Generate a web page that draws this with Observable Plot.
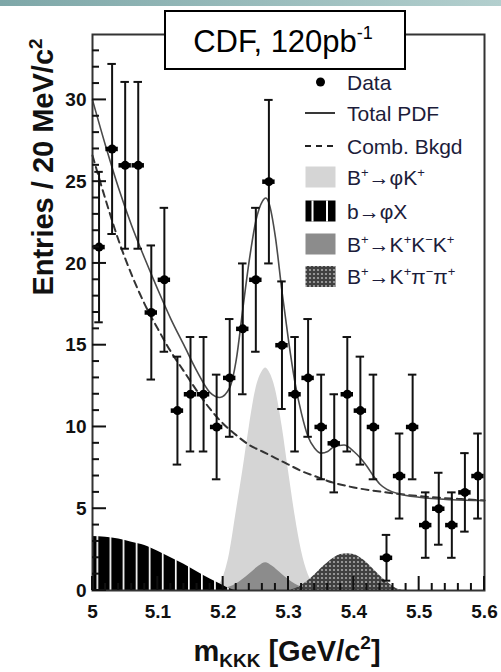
<!DOCTYPE html>
<html><head><meta charset="utf-8">
<script src="https://cdn.jsdelivr.net/npm/d3@7"></script>
<script src="https://cdn.jsdelivr.net/npm/@observablehq/plot@0.6"></script>
<style>body{margin:0;background:#fff;} #chart{position:relative;width:501px;height:672px;overflow:hidden}</style>
</head><body><div id="chart"></div>
<script>
// ---- data ----
const binCenters = [5.01,5.03,5.05,5.07,5.09,5.11,5.13,5.15,5.17,5.19,5.21,5.23,5.25,5.27,5.29,5.31,5.33,5.35,5.37,5.39,5.41,5.43,5.45,5.47,5.49,5.51,5.53,5.55,5.57,5.59];
const entries    = [21,27,26,26,17,19,11,12,12,10,13,16,19,25,15,12,13,10,9,12,11,10,2,7,10,4,5,4,6,7];
const errors     = [4.6,5.2,5.1,5.1,4.1,4.4,3.3,3.5,3.5,3.2,3.6,4.0,4.4,5.0,3.9,3.5,3.6,3.2,3.0,3.5,3.3,3.2,1.4,2.6,3.2,2.0,2.2,2.0,2.4,2.6];

const totalX = [5.00,5.02,5.04,5.06,5.08,5.10,5.12,5.14,5.16,5.18,5.195,5.21,5.22,5.23,5.24,5.25,5.26,5.265,5.27,5.28,5.29,5.30,5.31,5.32,5.33,5.34,5.35,5.36,5.37,5.385,5.40,5.41,5.42,5.43,5.44,5.45,5.47,5.50,5.55,5.60];
const totalY = [30.0,27.2,24.6,22.3,20.3,18.4,16.6,15.0,13.4,12.1,11.8,12.4,14.1,17.2,20.2,22.6,23.8,24.0,23.7,21.6,18.3,15.3,12.7,10.8,9.4,8.7,8.4,8.5,8.8,8.9,8.5,8.1,7.6,7.0,6.5,6.2,5.9,5.7,5.55,5.5];

const bkgX = [5.00,5.02,5.04,5.06,5.08,5.10,5.12,5.14,5.16,5.18,5.20,5.22,5.24,5.26,5.28,5.30,5.32,5.34,5.36,5.40,5.44,5.48,5.52,5.56,5.60];
const bkgY = [26.6,23.9,21.4,19.3,17.5,16.0,14.6,13.4,12.2,11.1,10.2,9.5,8.9,8.5,8.1,7.7,7.3,7.0,6.7,6.3,6.05,5.85,5.7,5.6,5.5];

const phiKX = [5.18,5.19,5.20,5.21,5.22,5.23,5.24,5.25,5.26,5.265,5.27,5.28,5.29,5.30,5.31,5.32,5.33,5.34,5.35];
const phiKY = [0,0.2,0.8,2.3,4.8,7.3,10.0,12.3,13.4,13.6,13.4,12.3,10.1,7.3,4.6,2.4,1.0,0.3,0];

const kkkX = [5.18,5.20,5.22,5.24,5.255,5.265,5.275,5.29,5.31,5.33,5.35];
const kkkY = [0,0.1,0.4,1.0,1.5,1.7,1.5,1.0,0.4,0.1,0];

const kppX = [5.30,5.31,5.32,5.33,5.34,5.35,5.36,5.37,5.38,5.39,5.40,5.41,5.42,5.43,5.44,5.45,5.46,5.47,5.48];
const kppY = [0,0.1,0.3,0.6,0.95,1.35,1.7,2.0,2.2,2.25,2.2,2.0,1.7,1.3,0.9,0.55,0.25,0.05,0];

const bphiX = [5.00,5.02,5.04,5.06,5.08,5.10,5.12,5.14,5.16,5.18,5.20,5.21,5.22];
const bphiY = [3.3,3.25,3.15,2.95,2.75,2.4,2.0,1.6,1.15,0.7,0.3,0.1,0];

const xMajorTicks = [5,5.1,5.2,5.3,5.4,5.5,5.6];
const xTickLabels = ["5","5.1","5.2","5.3","5.4","5.5","5.6"];
const xMinorTicks = [5.02,5.04,5.06,5.08,5.12,5.14,5.16,5.18,5.22,5.24,5.26,5.28,5.32,5.34,5.36,5.38,5.42,5.44,5.46,5.48,5.52,5.54,5.56,5.58];
const yMajorTicks = [0,5,10,15,20,25,30];
const yMinorTicks = [1,2,3,4,6,7,8,9,11,12,13,14,16,17,18,19,21,22,23,24,26,27,28,29,31,32,33];

const legendItems = [
  {kind:"dot",  label:[["Data"]]},
  {kind:"line", label:[["Total PDF"]]},
  {kind:"dash", label:[["Comb. Bkgd"]]},
  {kind:"light",label:[["B"],["+","sup"],["\u2192\u03c6K"],["+","sup"]]},
  {kind:"bphi", label:[["b\u2192\u03c6X"]]},
  {kind:"kkk",  label:[["B"],["+","sup"],["\u2192K"],["+","sup"],["K"],["\u2212","sup"],["K"],["+","sup"]]},
  {kind:"kpp",  label:[["B"],["+","sup"],["\u2192K"],["+","sup"],["\u03c0"],["\u2212","sup"],["\u03c0"],["+","sup"]]}
];

// ---- tables ----
const zip = (xs, ys) => xs.map((x, i) => ({x, y: ys[i]}));
const pts = binCenters.map((x, i) => ({x, n: entries[i], e: errors[i]}));
const FONT = "'Liberation Sans', Arial, Helvetica, sans-serif";

const svg = Plot.plot({
  width: 501, height: 672,
  marginLeft: 92, marginRight: 17, marginTop: 34, marginBottom: 82,
  style: {fontFamily: FONT, background: "#fff"},
  x: {domain: [5, 5.6], label: null},
  y: {domain: [0, 34], label: null},
  marks: [
    Plot.areaY(zip(phiKX, phiKY), {x: "x", y: "y", fill: "#d5d5d5", curve: "monotone-x"}),
    Plot.areaY(zip(kkkX, kkkY), {x: "x", y: "y", fill: "#8c8c8c", curve: "monotone-x"}),
    Plot.areaY(zip(kppX, kppY), {x: "x", y: "y", fill: "url(#kppPat)", curve: "monotone-x"}),
    Plot.areaY(zip(bphiX, bphiY), {x: "x", y: "y", fill: "url(#bphiPat)", curve: "monotone-x"}),
    Plot.line(zip(bkgX, bkgY), {x: "x", y: "y", stroke: "#333", strokeWidth: 2, strokeDasharray: "7,5", curve: "monotone-x"}),
    Plot.line(zip(totalX, totalY), {x: "x", y: "y", stroke: "#4a4a4a", strokeWidth: 1.6, curve: "monotone-x"}),
    // data with error bars
    Plot.ruleX(pts, {x: "x", y1: d => d.n - d.e, y2: d => d.n + d.e, stroke: "#111", strokeWidth: 2}),
    Plot.ruleY(pts, {y: d => d.n - d.e, x1: d => d.x - 0.0065, x2: d => d.x + 0.0065, stroke: "#111", strokeWidth: 2}),
    Plot.ruleY(pts, {y: d => d.n + d.e, x1: d => d.x - 0.0065, x2: d => d.x + 0.0065, stroke: "#111", strokeWidth: 2}),
    Plot.ruleY(pts, {y: "n", x1: d => d.x - 0.0095, x2: d => d.x + 0.0095, stroke: "#000", strokeWidth: 4.5}),
    Plot.dot(pts, {x: "x", y: "n", r: 4.5, fill: "#000"}),
    Plot.frame({stroke: "#333", strokeWidth: 2}),
    Plot.axisX(xMajorTicks, {tickSize: 0, tickPadding: 14, fontSize: 19, fontWeight: "bold", fill: "#111",
      tickFormat: d => xTickLabels[xMajorTicks.indexOf(d)]}),
    Plot.axisY(yMajorTicks, {tickSize: 0, tickPadding: 6, fontSize: 19, fontWeight: "bold", fill: "#111"})
  ]
});
document.getElementById("chart").appendChild(svg);

const xs = svg.scale("x"), ys = svg.scale("y");
const X = v => xs.apply(v), Y = v => ys.apply(v);
const S = d3.select(svg);
const defs = S.insert("defs", ":first-child");
const lg = defs.append("linearGradient").attr("id", "hdr").attr("x1", 0).attr("x2", 1).attr("y1", 0).attr("y2", 0);
lg.append("stop").attr("offset", 0).attr("stop-color", "#7ea7a8");
lg.append("stop").attr("offset", 1).attr("stop-color", "#b3cfce");
const bw = X(5.02) - X(5.0);
const bp = defs.append("pattern").attr("id", "bphiPat").attr("patternUnits", "userSpaceOnUse")
  .attr("x", X(5.0) + 4.5).attr("y", 0).attr("width", bw).attr("height", 20);
bp.append("rect").attr("width", bw).attr("height", 20).attr("fill", "#000");
bp.append("rect").attr("x", 0).attr("width", 1.7).attr("height", 20).attr("fill", "#fff");
const kp = defs.append("pattern").attr("id", "kppPat").attr("patternUnits", "userSpaceOnUse")
  .attr("width", 4).attr("height", 4);
kp.append("rect").attr("width", 4).attr("height", 4).attr("fill", "#404040");
kp.append("circle").attr("cx", 2).attr("cy", 2).attr("r", 1.1).attr("fill", "#a8a8a8");

const ov = S.append("g").style("font-family", FONT).attr("text-anchor", "start");

// inner axis ticks, placed with the plot's own scales
const tk = ov.append("g").attr("stroke", "#111").attr("stroke-width", 2);
const x0 = X(5), y0 = Y(0);
yMajorTicks.forEach(v => tk.append("line").attr("x1", x0).attr("x2", x0 + 14).attr("y1", Y(v)).attr("y2", Y(v)));
yMinorTicks.forEach(v => tk.append("line").attr("x1", x0).attr("x2", x0 + 7).attr("y1", Y(v)).attr("y2", Y(v)));
xMajorTicks.forEach(v => tk.append("line").attr("x1", X(v)).attr("x2", X(v)).attr("y1", y0).attr("y2", y0 - 14));
xMinorTicks.forEach(v => tk.append("line").attr("x1", X(v)).attr("x2", X(v)).attr("y1", y0).attr("y2", y0 - 7));

ov.append("rect").attr("x", 0).attr("y", 0).attr("width", 501).attr("height", 6).attr("fill", "url(#hdr)");

// title box
ov.append("rect").attr("x", 165).attr("y", 11).attr("width", 240).attr("height", 58)
  .attr("fill", "#fff").attr("stroke", "#000").attr("stroke-width", 2);
const tt = ov.append("text").attr("x", 283).attr("y", 52).attr("text-anchor", "middle")
  .style("font-size", "31px").attr("fill", "#000");
tt.append("tspan").text("CDF, 120pb");
tt.append("tspan").attr("dy", -13).style("font-size", "18px").text("-1");

// legend
const rowY = [82, 113, 146, 177, 211, 244, 276.5];
legendItems.forEach((it, i) => {
  const cy = rowY[i];
  const g = ov.append("g");
  if (it.kind === "dot") g.append("circle").attr("cx", 320.5).attr("cy", cy).attr("r", 4.5).attr("fill", "#000");
  else if (it.kind === "line") g.append("line").attr("x1", 305).attr("x2", 335).attr("y1", cy).attr("y2", cy).attr("stroke", "#222").attr("stroke-width", 1.8);
  else if (it.kind === "dash") g.append("line").attr("x1", 305).attr("x2", 336).attr("y1", cy).attr("y2", cy).attr("stroke", "#222").attr("stroke-width", 1.8).attr("stroke-dasharray", "6,5");
  else {
    const fill = it.kind === "light" ? "#d5d5d5" : it.kind === "kkk" ? "#8c8c8c" : it.kind === "kpp" ? "url(#kppPat)" : "#000";
    g.append("rect").attr("x", 305.5).attr("y", cy - 10.5).attr("width", 30).attr("height", 21).attr("fill", fill);
    if (it.kind === "bphi") {
      [311.5, 326].forEach(x => g.append("rect").attr("x", x).attr("y", cy - 10.5).attr("width", 2).attr("height", 21).attr("fill", "#fff"));
    }
  }
  const t = g.append("text").attr("x", 347).attr("y", cy + 7.5).attr("text-anchor", "start")
    .style("font-size", "21px").attr("fill", "#1c1c3a");
  let up = false;
  it.label.forEach(([s, kind]) => {
    if (kind === "sup") {
      const sp = t.append("tspan").style("font-size", "13px").text(s);
      if (!up) { sp.attr("dy", -8); up = true; }
    } else {
      const sp = t.append("tspan").text(s);
      if (up) { sp.attr("dy", 8); up = false; }
    }
  });
});

// y title
const yt = ov.append("text").attr("transform", "translate(53,167) rotate(-90)").attr("text-anchor", "middle")
  .style("font-size", "29px").style("font-weight", "bold").attr("fill", "#111");
yt.append("tspan").text("Entries / 20 MeV/c");
yt.append("tspan").attr("dy", -11).style("font-size", "19px").text("2");

// x title
const xt = ov.append("text").attr("x", 287).attr("y", 661).attr("text-anchor", "middle")
  .style("font-size", "29px").style("font-weight", "bold").attr("fill", "#111");
xt.append("tspan").text("m");
xt.append("tspan").attr("dy", 6).style("font-size", "19px").text("KKK");
xt.append("tspan").attr("dy", -6).text(" [GeV/c");
xt.append("tspan").attr("dy", -12).style("font-size", "19px").text("2");
xt.append("tspan").attr("dy", 12).text("]");
</script></body></html>
